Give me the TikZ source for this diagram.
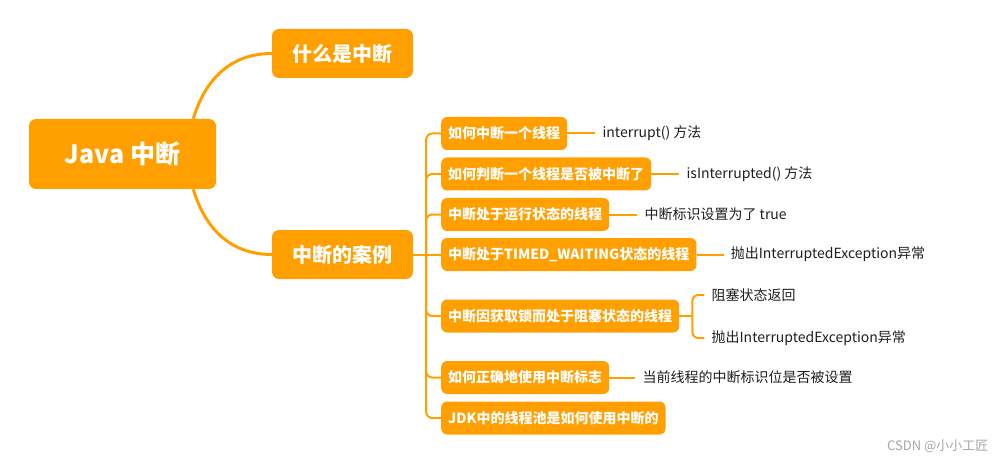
\documentclass[tikz,border=0pt]{standalone}
\usepackage{fontspec}
\newfontfamily\cjk{Noto Sans CJK SC}
\definecolor{mindorange}{RGB}{255,160,0}
\definecolor{leaftext}{RGB}{30,30,30}

\begin{document}
\begin{tikzpicture}[x=1pt, y=-1pt,
    every node/.style={font=\cjk},
    rootbox/.style={fill=mindorange, rounded corners=7, text=white, font=\cjk\bfseries\fontsize{25}{28}\selectfont,
      minimum width=187, minimum height=70},
    mainbox/.style={fill=mindorange, rounded corners=7, text=white, font=\cjk\bfseries\fontsize{20}{24}\selectfont,
      minimum width=141, minimum height=49},
    subbox/.style={fill=mindorange, rounded corners=6, text=white, font=\cjk\bfseries\fontsize{14}{17}\selectfont,
      minimum height=33, inner xsep=7, anchor=west},
    leaf/.style={text=leaftext, font=\cjk\fontsize{14}{17}\selectfont, inner xsep=7, inner ysep=2, anchor=west},
    branch/.style={draw=mindorange, line width=3},
    twig/.style={draw=mindorange, line width=2, rounded corners=6}]
      \useasboundingbox (0,0) rectangle (1006,465);

      \node[rootbox] (java) at (122.5,154) {Java 中断};
      \node[mainbox] (what) at (342.5,53.5) {什么是中断};
      \node[mainbox] (cases) at (342.5,254.5) {中断的案例};

      \draw[branch] ([xshift=-23]java.north east) .. controls (205,80) and (230,53.5) .. (what.west);
      \draw[branch] ([xshift=-23]java.south east) .. controls (205,228) and (230,254.5) .. (cases.west);

      % cases
      \node[subbox] (c1) at (441,133.5) {如何中断一个线程};
      \node[subbox] (c2) at (441,174) {如何判断一个线程是否被中断了};
      \node[subbox] (c3) at (441,214.5) {中断处于运行状态的线程};
      \node[subbox] (c4) at (441,254.5) {中断处于TIMED\_WAITING状态的线程};
      \node[subbox] (c5) at (441,316) {中断因获取锁而处于阻塞状态的线程};
      \node[subbox] (c6) at (441,377.5) {如何正确地使用中断标志};
      \node[subbox] (c7) at (441,418) {JDK中的线程池是如何使用中断的};

      \coordinate (hub) at ([xshift=13]cases.east);
      \draw[twig] (cases.east) -- (c4.west);
      \foreach \c in {c1,c2,c3,c5,c6,c7}
        \draw[twig] (hub) |- (\c.west);

      % leaves
      \node[leaf] (l1) at ([xshift=28]c1.east) {interrupt() 方法};
      \node[leaf] (l2) at ([xshift=28]c2.east) {isInterrupted() 方法};
      \node[leaf] (l3) at ([xshift=28]c3.east) {中断标识设置为了 true};
      \node[leaf] (l4) at ([xshift=27]c4.east) {抛出InterruptedException异常};
      \node[leaf] (l6) at ([xshift=26]c6.east) {当前线程的中断标识位是否被设置};
      \foreach \c/\l in {c1/l1,c2/l2,c3/l3,c4/l4,c6/l6}
        \draw[twig] (\c.east) -- (\l.west);

      \coordinate (hub5) at ([xshift=13]c5.east);
      \node[leaf] (l5a) at ([xshift=12]hub5 |- 0,295) {阻塞状态返回};
      \node[leaf] (l5b) at ([xshift=12]hub5 |- 0,338) {抛出InterruptedException异常};
      \draw[twig] (c5.east) -- (hub5);
      \draw[twig] (hub5) |- (l5a.west);
      \draw[twig] (hub5) |- (l5b.west);

      \node[text=gray!70, font=\cjk\fontsize{13}{15}\selectfont, anchor=east] (mark) at (992,446) {CSDN @小小工匠};

    \end{tikzpicture}
\end{document}
